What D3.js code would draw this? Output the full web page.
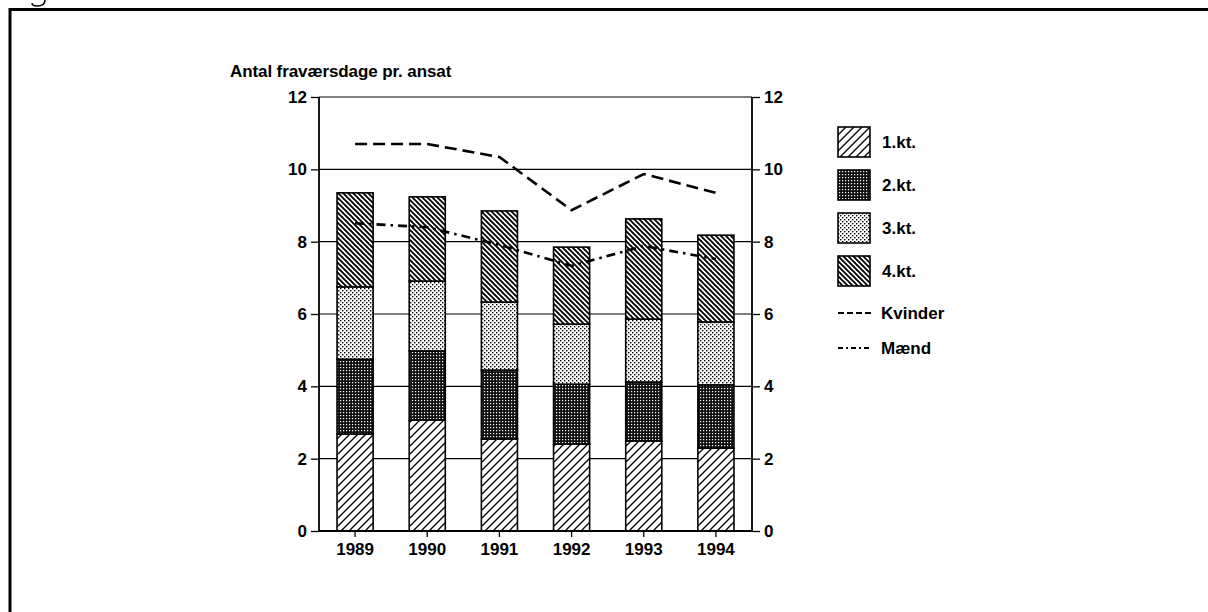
<!DOCTYPE html>
<html>
<head>
<meta charset="utf-8">
<script src="https://cdn.jsdelivr.net/npm/d3@7"></script>
<style>
  body { margin: 0; background: #fff; }
  text { font-family: "Liberation Sans", Arial, sans-serif; font-weight: bold; fill: #000; }
</style>
</head>
<body>
<svg id="svg" width="1208" height="612"></svg>
<script>
var years   = ["1989", "1990", "1991", "1992", "1993", "1994"];
var kvartal = ["1.kt.", "2.kt.", "3.kt.", "4.kt."];
var kt1 = [2.68, 3.07, 2.54, 2.40, 2.49, 2.29];
var kt2 = [2.07, 1.91, 1.91, 1.66, 1.63, 1.75];
var kt3 = [2.00, 1.93, 1.88, 1.66, 1.74, 1.74];
var kt4 = [2.60, 2.33, 2.52, 2.13, 2.77, 2.40];
var kvinder = [10.70, 10.70, 10.34, 8.87, 9.87, 9.35];
var maend   = [8.51, 8.40, 7.91, 7.33, 7.88, 7.52];
var yTicks  = [0, 2, 4, 6, 8, 10, 12];
var yTitle  = "Antal fraværsdage pr. ansat";

// small stand-in for d3-selection-multi
d3.selection.prototype.attrs = function (o) {
    var sel = this;
    if (typeof o === "function") {
        return sel.each(function (d, i, n) {
            var r = o.call(this, d, i, n), s = d3.select(this);
            for (var k in r) s.attr(k, r[k]);
        });
    }
    for (var k in o) sel.attr(k, o[k]);
    return sel;
};

var svg = d3.select("#svg"),
    defs = svg.append("defs");

var x0 = 319, x1 = 752, y0 = 531, y1 = 97;

var x = d3.scaleBand().domain(years).range([x0, x1]).paddingInner(0.5).paddingOuter(0.25);
var y = d3.scaleLinear().domain([0, 12]).range([y0, y1]);

// fill patterns for the four quarters
function pat(id, w, h) {
    return defs.append("pattern").attrs({id: id, width: w, height: h, patternUnits: "userSpaceOnUse"});
}
var p1 = pat("p1", 8, 8);
p1.append("rect").attrs({width: 8, height: 8, fill: "#fff"});
p1.append("path").attrs({d: "M0,8L8,0M-2,2L2,-2M6,10L10,6", stroke: "#000", "stroke-width": 1.3});

var p2 = pat("p2", 3, 3);
p2.append("rect").attrs({width: 3, height: 3, fill: "#111"});
p2.append("rect").attrs({x: 1, y: 1, width: 1.2, height: 1.2, fill: "#fff"});

var p3 = pat("p3", 4, 4);
p3.append("rect").attrs({width: 4, height: 4, fill: "#fff"});
p3.append("rect").attrs({x: 0, y: 0, width: 1.4, height: 1.4, fill: "#000"});
p3.append("rect").attrs({x: 2, y: 2, width: 1.4, height: 1.4, fill: "#000"});

var p4 = pat("p4", 5, 5);
p4.append("rect").attrs({width: 5, height: 5, fill: "#fff"});
p4.append("path").attrs({d: "M0,0L5,5M-2,3L2,7M3,-2L7,2", stroke: "#000", "stroke-width": 1.9});

var fills = ["url(#p1)", "url(#p2)", "url(#p3)", "url(#p4)"];

// frame of the scanned figure, with the tail of the cropped caption above it
svg.append("path").attrs({d: "M45,0C45,5 40,6 37,6C33,6 32,4 32,3", fill: "none", stroke: "#000", "stroke-width": 1.5});
svg.append("path").attrs({d: "M10,612V9.5H1208", fill: "none", stroke: "#000", "stroke-width": 3});

// grid
svg.append("g").selectAll().data(yTicks.slice(1)).enter().append("line")
    .attrs({x1: x0, x2: x1, y1: d => y(d), y2: d => y(d), stroke: "#000", "stroke-width": 1.2});

// bars
var rows = years.map((yr, i) => ({year: yr, k0: kt1[i], k1: kt2[i], k2: kt3[i], k3: kt4[i]}));
var stack = d3.stack().keys(["k0", "k1", "k2", "k3"])(rows);
svg.append("g").selectAll().data(stack).enter().append("g")
    .attr("fill", (_, i) => fills[i])
    .selectAll().data(d => d).enter().append("rect")
    .attrs({x: d => x(d.data.year), width: x.bandwidth(), y: d => y(d[1]), height: d => y(d[0]) - y(d[1]),
        stroke: "#000", "stroke-width": 1.6});

// axes
var fs = "17px";
var left = svg.append("g").attr("transform", "translate(" + x0 + ",0)")
    .call(d3.axisLeft(y).tickValues(yTicks).tickSize(8).tickPadding(4));
var right = svg.append("g").attr("transform", "translate(" + x1 + ",0)")
    .call(d3.axisRight(y).tickValues(yTicks).tickSize(8).tickPadding(4));
var bottom = svg.append("g").attr("transform", "translate(0," + y0 + ")")
    .call(d3.axisBottom(x).tickSize(6).tickPadding(6));
[left, right, bottom].forEach(a => {
    a.select(".domain").attrs({stroke: "#000", "stroke-width": 1.8});
    a.selectAll(".tick line").attrs({stroke: "#000", "stroke-width": 1.3});
    a.selectAll("text").style("font-size", fs).style("font-family", "Liberation Sans").style("font-weight", "bold")
        .attr("fill", "#000");
});
left.select(".domain").attr("d", "M0," + y0 + "V" + y1);
right.select(".domain").attr("d", "M0," + y0 + "V" + y1);
bottom.select(".domain").attr("d", "M" + x0 + ",0H" + x1);

svg.append("text").attrs({x: 230, y: 77}).style("font-size", "17px").style("letter-spacing", "-0.1px").text(yTitle);

// lines
var line = d3.line().x((_, i) => x(years[i]) + x.bandwidth() / 2).y(d => y(d));
svg.append("path").datum(kvinder).attrs({d: line, fill: "none", stroke: "#000", "stroke-width": 2.6,
    "stroke-dasharray": "12,6"});
svg.append("path").datum(maend).attrs({d: line, fill: "none", stroke: "#000", "stroke-width": 2.6,
    "stroke-dasharray": "9,5,2.5,5"});

// legend
var lg = svg.append("g").attr("transform", "translate(838,127)");
var items = lg.selectAll().data(kvartal).enter().append("g")
    .attr("transform", (_, i) => "translate(0," + i * 43 + ")");
items.append("rect").attrs({width: 32, height: 30, fill: (_, i) => fills[i], stroke: "#000", "stroke-width": 1.6});
items.append("text").attrs({x: 44, y: 21}).style("font-size", fs).text(d => d);

var lines = lg.selectAll().data([["Kvinder", "6,3"], ["Mænd", "5,3,2,3"]]).enter().append("g")
    .attr("transform", (_, i) => "translate(0," + (186 + i * 35) + ")");
lines.append("line").attrs({x1: 0, x2: 34, y1: 0, y2: 0, stroke: "#000", "stroke-width": 2.2,
    "stroke-dasharray": d => d[1]});
lines.append("text").attrs({x: 43, y: 6}).style("font-size", fs).text(d => d[0]);
</script>
</body>
</html>
